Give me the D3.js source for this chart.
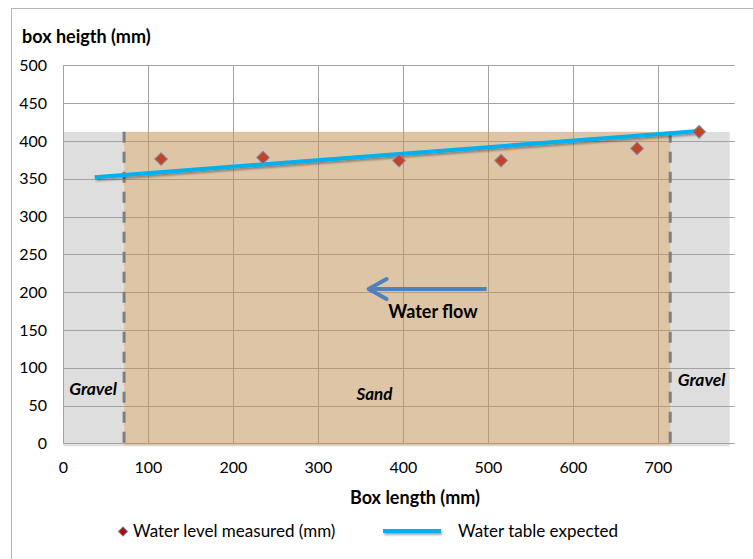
<!DOCTYPE html>
<html>
<head>
<meta charset="utf-8">
<script src="https://cdn.jsdelivr.net/npm/d3@7"></script>
<style>
  html, body { margin: 0; padding: 0; background: #fff; }
  svg { display: block; font-family: Lato, "Open Sans", sans-serif; }
</style>
</head>
<body>
<svg id="chart" width="753" height="559"></svg>
<script>
// ---- data ----
const measuredX = [115, 235, 395, 515, 675, 748];
const measuredY = [376, 378, 374, 374, 390, 412];
const expectedX = [37, 748];
const expectedY = [352, 413];
const xTicks = [0, 100, 200, 300, 400, 500, 600, 700];
const yTicks = [0, 50, 100, 150, 200, 250, 300, 350, 400, 450, 500];
const gravelZone = [0, 784];      // x extent of gravel background
const sandZone = [71.5, 714];     // x extent of sand
const mediaTop = 412;             // top of porous media
const flowArrow = [498, 358, 204]; // x from, x to, y
const annotations = [
  {text: "Water flow", x: 435, y: 166, italic: false, size: 18},
  {text: "Sand", x: 366, y: 57, italic: true, size: 17},
  {text: "Gravel", x: 35, y: 64, italic: true, size: 17.5},
  {text: "Gravel", x: 751, y: 76, italic: true, size: 17.5}
];
const titleY = "box heigth (mm)";
const titleX = "Box length (mm)";
const legendLabels = ["Water level measured (mm)", "Water table expected"];

// ---- layout ----
const svg = d3.select("#chart");
const L = 63.3, T = 65.3, B = 443.3;
const x = d3.scaleLinear().domain([0, 790]).range([L, L + 790 * 0.85]);
const y = d3.scaleLinear().domain([0, 500]).range([B, T]);
const R = x(790);

const defs = svg.append("defs");
const f = defs.append("filter").attr("id", "sh").attr("filterUnits", "userSpaceOnUse")
  .attr("x", 0).attr("y", 0).attr("width", 753).attr("height", 559);
f.append("feDropShadow").attr("dx", 1).attr("dy", 2).attr("stdDeviation", 1.2).attr("flood-color", "#000").attr("flood-opacity", 0.35);

const sandX0 = x(sandZone[0]), sandX1 = x(sandZone[1]);
defs.append("clipPath").attr("id", "sandclip").append("rect")
  .attr("x", sandX0).attr("y", y(mediaTop)).attr("width", sandX1 - sandX0).attr("height", y(0) - y(mediaTop) + 3);

// outer border
svg.append("rect").attr("x", 11.5).attr("y", 8.5).attr("width", 800).attr("height", 600)
  .attr("fill", "none").attr("stroke", "#b5b5b5").attr("stroke-width", 1);

// gravel background
svg.append("rect")
  .attr("x", x(gravelZone[0])).attr("y", y(mediaTop))
  .attr("width", x(gravelZone[1]) - x(gravelZone[0]))
  .attr("height", y(0) - y(mediaTop) + 3)
  .attr("fill", "#dedede");

function grid(sel, color) {
  sel.selectAll("line.h").data(yTicks).join("line").attr("class", "h")
    .attr("x1", L).attr("x2", R).attr("y1", d => Math.round(y(d)) + 0.5).attr("y2", d => Math.round(y(d)) + 0.5)
    .attr("stroke", color).attr("stroke-width", 1);
  sel.selectAll("line.v").data(xTicks).join("line").attr("class", "v")
    .attr("y1", T).attr("y2", B).attr("x1", d => Math.round(x(d)) + 0.5).attr("x2", d => Math.round(x(d)) + 0.5)
    .attr("stroke", color).attr("stroke-width", 1);
}
grid(svg.append("g"), "#a3a3a3");

// sand
svg.append("rect")
  .attr("x", sandX0).attr("y", y(mediaTop))
  .attr("width", sandX1 - sandX0)
  .attr("height", y(0) - y(mediaTop) + 2)
  .attr("fill", "#dec5a6");
grid(svg.append("g").attr("clip-path", "url(#sandclip)"), "#b39a7c");

// dashed boundaries
svg.selectAll("line.dash").data(sandZone).join("line")
  .attr("x1", d => x(d)).attr("x2", d => x(d))
  .attr("y1", y(mediaTop)).attr("y2", y(0) + 4)
  .attr("stroke", "#7f7f7f").attr("stroke-width", 3).attr("stroke-dasharray", "11,9");

// tick labels
svg.selectAll("text.yt").data(yTicks).join("text")
  .attr("x", 47).attr("y", d => y(d)).attr("dy", "0.35em").attr("text-anchor", "end")
  .attr("font-size", 16).attr("fill", "#000").text(d => d);
svg.selectAll("text.xt").data(xTicks).join("text")
  .attr("x", d => x(d)).attr("y", 467.5).attr("dy", "0.35em").attr("text-anchor", "middle")
  .attr("font-size", 16).attr("fill", "#000").text(d => d);

// titles
svg.append("text").attr("x", 22).attr("y", 43).attr("font-size", 18).attr("font-weight", "bold").text(titleY);
svg.append("text").attr("x", 415).attr("y", 504).attr("text-anchor", "middle").attr("font-size", 18).attr("font-weight", "bold").text(titleX);

// expected water table line
const lineData = expectedX.map((d, i) => [d, expectedY[i]]);
svg.append("path").datum(lineData)
  .attr("d", d3.line().x(d => x(d[0])).y(d => y(d[1])))
  .attr("fill", "none").attr("stroke", "#00b0f0").attr("stroke-width", 4).attr("filter", "url(#sh)");

// measured points
svg.selectAll("path.pt").data(measuredX.map((d, i) => [d, measuredY[i]])).join("path")
  .attr("d", d3.symbol().type(d3.symbolSquare).size(81))
  .attr("transform", d => `translate(${x(d[0])},${y(d[1])}) rotate(45)`)
  .attr("fill", "#c1432a").attr("stroke", "#8a8aa0").attr("stroke-width", 1);

// flow arrow
const ax1 = x(flowArrow[0]), ax2 = x(flowArrow[1]), ay = y(flowArrow[2]);
svg.append("line").attr("x1", ax1).attr("x2", ax2 + 2).attr("y1", ay).attr("y2", ay)
  .attr("stroke", "#4f81bd").attr("stroke-width", 4);
svg.append("path")
  .attr("d", `M${ax2 + 19},${ay - 10} L${ax2 + 1},${ay} L${ax2 + 19},${ay + 10}`)
  .attr("fill", "none").attr("stroke", "#4f81bd").attr("stroke-width", 4)
  .attr("stroke-linecap", "round").attr("stroke-linejoin", "round");

// annotations
svg.selectAll("text.ann").data(annotations).join("text")
  .attr("x", d => x(d.x)).attr("y", d => y(d.y)).attr("text-anchor", "middle")
  .attr("font-size", d => d.size).attr("font-weight", "bold")
  .attr("font-style", d => d.italic ? "italic" : "normal").attr("fill", "#000")
  .text(d => d.text);

// legend
const lg = svg.append("g");
lg.append("path").attr("d", d3.symbol().type(d3.symbolSquare).size(40))
  .attr("transform", "translate(123,531.5) rotate(45)")
  .attr("fill", "#c00000").attr("stroke", "#4f81bd").attr("stroke-width", 1);
lg.append("text").attr("x", 133).attr("y", 537).attr("font-size", 17).text(legendLabels[0]);
lg.append("line").attr("x1", 383).attr("x2", 441).attr("y1", 531).attr("y2", 531)
  .attr("stroke", "#00b0f0").attr("stroke-width", 4).attr("filter", "url(#sh)");
lg.append("text").attr("x", 458).attr("y", 537).attr("font-size", 17).text(legendLabels[1]);
</script>
</body>
</html>
